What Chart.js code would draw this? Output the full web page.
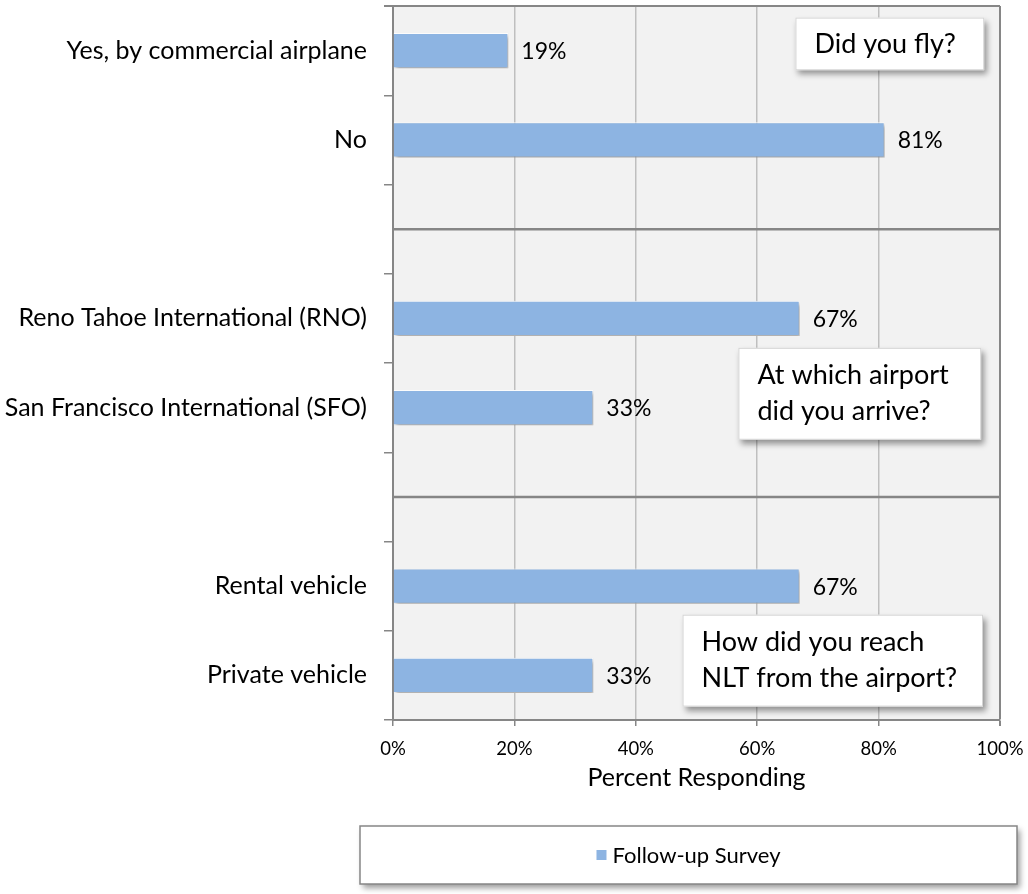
<!DOCTYPE html>
<html>
<head>
<meta charset="utf-8">
<script src="https://cdn.jsdelivr.net/npm/chart.js@4"></script>
<style>
  html, body { margin: 0; padding: 0; background: #fff; }
  #wrap { width: 1028px; height: 894px; position: relative; }
</style>
</head>
<body>
<div id="wrap"><canvas id="travelChart"></canvas></div>
<script>
// Chart data
const categories = [
  "Yes, by commercial airplane", "No", "",
  "Reno Tahoe International (RNO)", "San Francisco International (SFO)", "",
  "Rental vehicle", "Private vehicle"
];
const followUp = [19, 81, null, 67, 33, null, 67, 33];
const xTicks = [0, 20, 40, 60, 80, 100];
const seriesName = "Follow-up Survey";
const questions = [
  ["Did you fly?"],
  ["At which airport", "did you arrive?"],
  ["How did you reach", "NLT from the airport?"]
];

// where the question boxes sit, in axis units (x = percent, y = category index)
const questionBoxes = [
  { x0: 66.3, x1: 97.4, y0: -0.37, y1: 0.22 },
  { x0: 56.9, x1: 96.9, y0: 3.33, y1: 4.36 },
  { x0: 47.7, x1: 97.2, y0: 6.32, y1: 7.35 }
];

const FONT = "Lato, 'Open Sans', sans-serif";
const BAR_COLOR = "#8db4e2";
const AXIS_GRAY = "#868686";

const chartDecor = {
  id: "chartDecor",
  beforeDraw(chart) {
    const { ctx, chartArea: a } = chart;
    ctx.save();
    ctx.fillStyle = "#f2f2f2";
    ctx.fillRect(a.left, a.top, a.right - a.left, a.bottom - a.top);
    ctx.restore();
  },
  beforeDatasetsDraw(chart) {
    const { ctx, chartArea: a } = chart;
    const y = chart.scales.y;
    ctx.save();
    ctx.strokeStyle = AXIS_GRAY;
    ctx.lineWidth = 2;
    // top frame line, reaching out like the tick marks
    ctx.beginPath();
    ctx.moveTo(a.left - 9, a.top);
    ctx.lineTo(a.right, a.top);
    ctx.stroke();
    // separators on the blank rows
    ctx.lineWidth = 2.5;
    categories.forEach((c, i) => {
      if (c !== "") return;
      const py = y.getPixelForValue(i);
      ctx.beginPath();
      ctx.moveTo(a.left, py);
      ctx.lineTo(a.right, py);
      ctx.stroke();
    });
    ctx.restore();
    // shadow for bars
    ctx.save();
    ctx.shadowColor = "rgba(0,0,0,0.35)";
    ctx.shadowBlur = 4;
    ctx.shadowOffsetX = 2;
    ctx.shadowOffsetY = 3;
  },
  afterDatasetsDraw(chart) {
    const { ctx } = chart;
    ctx.restore();
    // value labels
    const meta = chart.getDatasetMeta(0);
    ctx.save();
    ctx.fillStyle = "#000";
    ctx.font = "23px " + FONT;
    ctx.textBaseline = "middle";
    ctx.textAlign = "left";
    meta.data.forEach((bar, i) => {
      const v = followUp[i];
      if (v == null) return;
      ctx.fillText(v + "%", bar.x + 13, bar.y + 1);
    });
    ctx.restore();
  },
  afterDraw(chart) {
    const { ctx } = chart;
    const xs = chart.scales.x, ys = chart.scales.y;

    // question boxes
    questionBoxes.forEach((b, k) => {
      const left = xs.getPixelForValue(b.x0), right = xs.getPixelForValue(b.x1);
      const top = ys.getPixelForValue(b.y0), bottom = ys.getPixelForValue(b.y1);
      ctx.save();
      ctx.shadowColor = "rgba(0,0,0,0.4)";
      ctx.shadowBlur = 6;
      ctx.shadowOffsetX = 3;
      ctx.shadowOffsetY = 4;
      ctx.fillStyle = "#fff";
      ctx.fillRect(left, top, right - left, bottom - top);
      ctx.restore();
      ctx.save();
      ctx.strokeStyle = "#d4d4d4";
      ctx.lineWidth = 1;
      ctx.strokeRect(left + 0.5, top + 0.5, right - left - 1, bottom - top - 1);
      ctx.fillStyle = "#000";
      ctx.font = "27px " + FONT;
      ctx.textBaseline = "middle";
      const lines = questions[k];
      const lh = 36;
      const mid = (top + bottom) / 2;
      lines.forEach((t, j) => {
        ctx.fillText(t, left + 19, mid + (j - (lines.length - 1) / 2) * lh);
      });
      ctx.restore();
    });

    // legend box
    const lx = 360, ly = 826, lw = 657, lh2 = 58;
    ctx.save();
    ctx.shadowColor = "rgba(0,0,0,0.4)";
    ctx.shadowBlur = 6;
    ctx.shadowOffsetX = 3;
    ctx.shadowOffsetY = 4;
    ctx.fillStyle = "#fff";
    ctx.fillRect(lx, ly, lw, lh2);
    ctx.restore();
    ctx.save();
    ctx.strokeStyle = AXIS_GRAY;
    ctx.lineWidth = 1.5;
    ctx.strokeRect(lx, ly, lw, lh2);
    ctx.font = "22px " + FONT;
    const ds = chart.data.datasets[0];
    const tw = ctx.measureText(ds.label).width;
    const gx = lx + lw / 2 - (10 + 6 + tw) / 2;
    const cy = ly + lh2 / 2;
    ctx.fillStyle = ds.backgroundColor;
    ctx.fillRect(gx, cy - 5, 10, 10);
    ctx.fillStyle = "#000";
    ctx.textBaseline = "middle";
    ctx.fillText(ds.label, gx + 16, cy + 1);
    ctx.restore();
  }
};

new Chart(document.getElementById("travelChart"), {
  type: "bar",
  data: {
    labels: categories,
    datasets: [{
      label: seriesName,
      data: followUp,
      backgroundColor: BAR_COLOR,
      borderColor: "#ffffff",
      borderWidth: 1,
      barPercentage: 0.55,
      categoryPercentage: 0.72
    }]
  },
  options: {
    indexAxis: "y",
    responsive: true,
    maintainAspectRatio: false,
    animation: false,
    layout: { padding: { top: 6, right: 28, bottom: 101, left: 0 } },
    plugins: { legend: { display: false }, tooltip: { enabled: false } },
    scales: {
      x: {
        min: 0,
        max: 100,
        afterBuildTicks: s => { s.ticks = xTicks.map(v => ({ value: v })); },
        afterFit: s => { s.height = 73; s.paddingLeft = 0; s.paddingRight = 0; },
        grid: {
          color: c => (c.tick && c.tick.value === 100 ? AXIS_GRAY : "#bfbfbf"),
          lineWidth: c => (c.tick && c.tick.value === 100 ? 2 : 1.5),
          tickColor: AXIS_GRAY,
          tickLength: 6
        },
        border: { color: AXIS_GRAY, width: 2 },
        ticks: {
          color: "#000",
          font: { family: FONT, size: 18.5 },
          padding: 12,
          callback: v => v + "%"
        },
        title: {
          display: true,
          text: "Percent Responding",
          color: "#000",
          font: { family: FONT, size: 25 },
          padding: { top: 0, bottom: 0 }
        }
      },
      y: {
        afterFit: s => { s.width = 393; s.paddingTop = 0; s.paddingBottom = 0; },
        grid: {
          drawOnChartArea: false,
          offset: true,
          tickLength: 9,
          tickColor: AXIS_GRAY,
          lineWidth: 1.5
        },
        border: { color: AXIS_GRAY, width: 2 },
        ticks: {
          color: "#000",
          font: { family: FONT, size: 25 },
          padding: 17
        }
      }
    }
  },
  plugins: [chartDecor]
});
</script>
</body>
</html>
